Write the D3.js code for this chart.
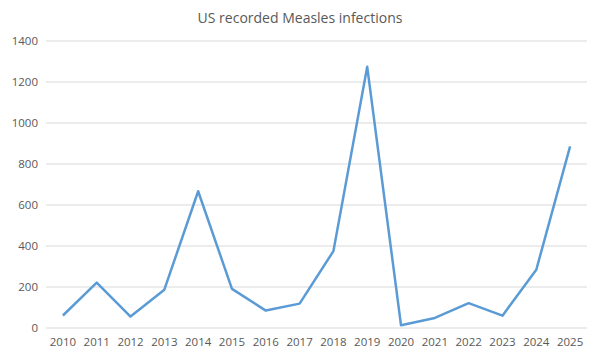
<!DOCTYPE html>
<html>
<head>
<meta charset="utf-8">
<script src="https://cdn.jsdelivr.net/npm/d3@7"></script>
<style>
  body { margin: 0; background: #fff; }
  #chart { width: 600px; height: 360px; }
  text { font-family: "Open Sans", "Liberation Sans", sans-serif; fill: #595959; }
</style>
</head>
<body>
<div id="chart"></div>
<script>
// chart data
let years = ["2010", "2011", "2012", "2013", "2014", "2015", "2016", "2017",
             "2018", "2019", "2020", "2021", "2022", "2023", "2024", "2025"];
let cases = [61, 221, 56, 187, 667, 191, 85, 119, 375, 1274, 13, 49, 121, 60, 284, 886];
let yTicks = [0, 200, 400, 600, 800, 1000, 1200, 1400];

let margin = {top: 41, right: 13, bottom: 32, left: 46};
let width = 600 - margin.left - margin.right;
let height = 360 - margin.top - margin.bottom;

let svg = d3.select("#chart").append("svg")
    .attr("width", 600)
    .attr("height", 360);

svg.append("text")
    .attr("x", 300)
    .attr("y", 23)
    .attr("text-anchor", "middle")
    .style("font-size", "14px")
    .text("US recorded Measles infections");

let g = svg.append("g")
    .attr("transform", `translate(${margin.left}, ${margin.top})`);

let x = d3.scaleBand()
    .domain(years)
    .range([0, width]);

let y = d3.scaleLinear()
    .domain([0, 1400])
    .range([height, 0]);

// gridlines
g.selectAll(".grid")
    .data(yTicks)
    .enter().append("line")
    .attr("x1", 0)
    .attr("x2", width)
    .attr("y1", d => y(d))
    .attr("y2", d => y(d))
    .attr("stroke", "#d9d9d9")
    .attr("stroke-width", 1);

// y axis labels
let yAxis = g.append("g")
    .call(d3.axisLeft(y).tickValues(yTicks).tickFormat(d3.format("d")).tickSize(0).tickPadding(8));
yAxis.select(".domain").remove();
yAxis.selectAll("text").style("font-size", "11.5px").attr("fill", "#595959");

// x axis labels
let xAxis = g.append("g")
    .attr("transform", `translate(0, ${height})`)
    .call(d3.axisBottom(x).tickSize(0).tickPadding(10));
xAxis.select(".domain").remove();
xAxis.selectAll("text").style("font-size", "11.5px").attr("fill", "#595959");

// line
let line = d3.line()
    .x((d, i) => x(years[i]) + x.bandwidth() / 2)
    .y(d => y(d));

g.append("path")
    .datum(cases)
    .attr("fill", "none")
    .attr("stroke", "#5b9bd5")
    .attr("stroke-width", 2.5)
    .attr("stroke-linejoin", "round")
    .attr("d", line);
</script>
</body>
</html>
